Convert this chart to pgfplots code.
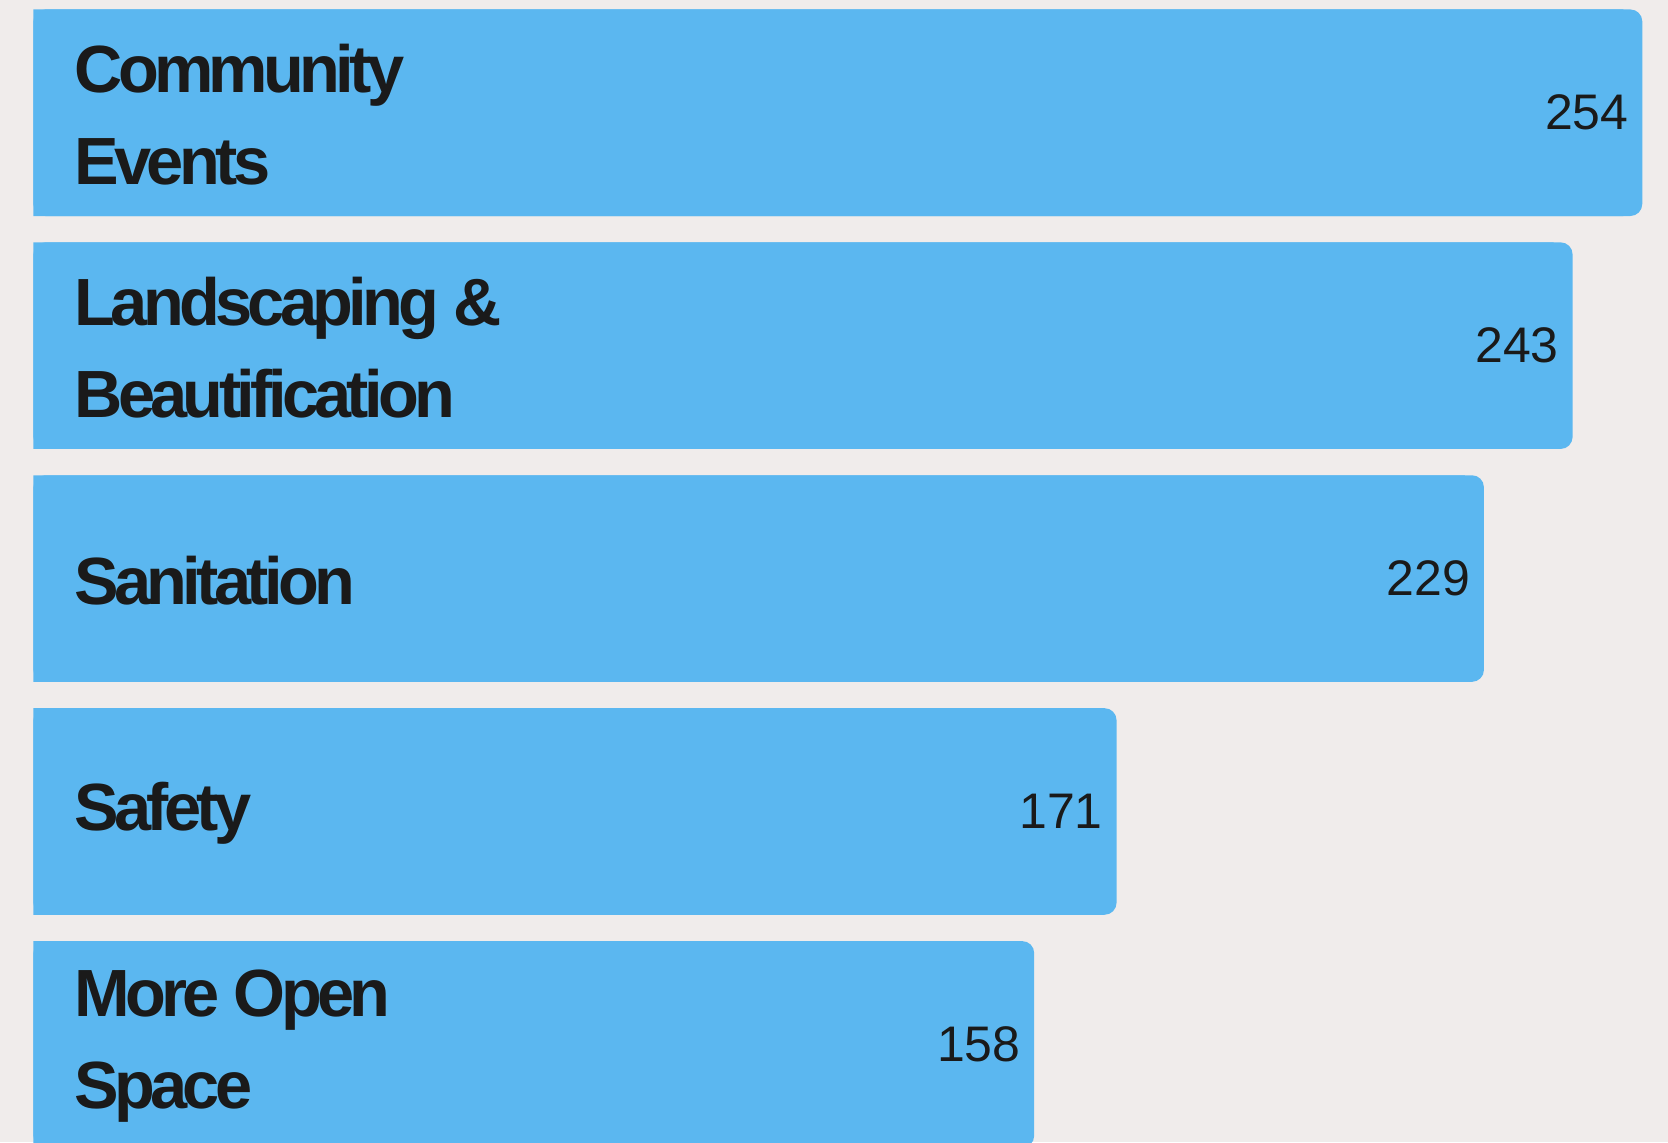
\documentclass[border=0pt]{standalone}
\usepackage{pgfplots}
\usepackage{pgfplotstable}
\usepackage{fontspec}
\pgfplotsset{compat=1.18}
\setmainfont{Liberation Sans}
\newfontfamily\labelfont[LetterSpace=-7]{Liberation Sans}

\definecolor{barblue}{RGB}{91,183,240}
\definecolor{bgcol}{RGB}{240,236,235}
\definecolor{ink}{RGB}{26,26,26}

% idx 0 = top bar
\pgfplotstableread{
idx v
0 254
1 243
2 229
3 171
4 158
}\counts

\begin{document}
\begin{tikzpicture}
\begin{axis}[
    width=417pt, height=285.75pt, scale only axis,
    axis background/.style={fill=bgcol},
    axis line style={draw=none},
    axis on top,
    xmin=-5.21, xmax=258.0,
    ymin=-0.484, ymax=4.421,
    y dir=reverse,
    xbar, bar width=0.887, bar shift=0pt,
    xtick=\empty,
    ytick={0,1,2,3,4},
    yticklabels={Community\\Events, Landscaping \&\\Beautification, Sanitation, Safety, More Open\\Space},
    major tick length=0pt,
    /pgf/number format/assume math mode=true,
    yticklabel style={anchor=west, xshift=15pt, yshift=-0.5pt, align=left, text=ink,
        font=\labelfont\bfseries\fontsize{16.7}{23}\selectfont},
]
% rounded right ends
\addplot[fill=barblue, draw=none, rounded corners=3pt]
    table[x=v, y=idx] {\counts};
% square left ends, value labels
\addplot[fill=barblue, draw=none,
    nodes near coords={\pgfmathprintnumber{\pgfplotspointmeta}},
    point meta=explicit,
    every node near coord/.append style={anchor=east, inner sep=0pt, xshift=1.5pt, text=ink,
        font=\fontsize{12.5}{14}\selectfont}]
    table[x expr=\thisrow{v}-3, y=idx, meta=v] {\counts};
\end{axis}
\end{tikzpicture}
\end{document}
